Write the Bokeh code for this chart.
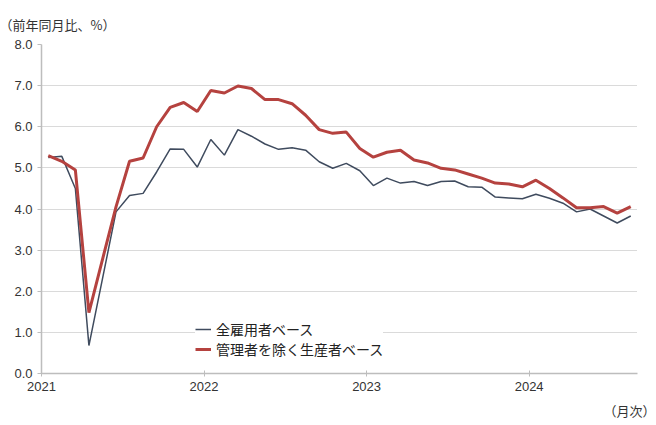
from bokeh.plotting import figure
from bokeh.models import Legend, LegendItem, Title, FixedTicker, ColumnDataSource
from bokeh.embed import file_html
from bokeh.resources import INLINE

# Monthly year-on-year growth (%), Jan 2021 - Aug 2024
years = [2021, 2022, 2023, 2024]
year_labels = ["2021", "2022", "2023", "2024"]

all_employees = [
    5.25, 5.28, 4.50, 0.68, 2.30, 3.93, 4.33, 4.38, 4.90, 5.46, 5.45, 5.02,
    5.69, 5.31, 5.93, 5.77, 5.58, 5.45, 5.49, 5.43, 5.15, 4.99, 5.11, 4.93,
    4.57, 4.75, 4.63, 4.67, 4.57, 4.67, 4.68, 4.54, 4.53, 4.29, 4.27, 4.25,
    4.36, 4.26, 4.14, 3.93, 4.00, 3.83, 3.66, 3.83,
]
production_nonsup = [
    5.30, 5.16, 4.95, 1.48, 2.77, 4.05, 5.16, 5.24, 6.00, 6.47, 6.59, 6.37,
    6.88, 6.82, 6.99, 6.93, 6.66, 6.66, 6.56, 6.28, 5.93, 5.84, 5.87, 5.47,
    5.26, 5.38, 5.43, 5.19, 5.12, 4.99, 4.95, 4.85, 4.75, 4.63, 4.61, 4.54,
    4.70, 4.50, 4.27, 4.03, 4.03, 4.06, 3.90, 4.06,
]
series_names = ["全雇用者ベース", "管理者を除く生産者ベース"]
y_label = "（前年同月比、%）"
x_label = "（月次）"

n = len(all_employees)
months = [2021 + (i + 0.5) / 12 for i in range(n)]
src = ColumnDataSource(dict(x=months, a=all_employees, b=production_nonsup))

FONT = "Noto Sans CJK JP"
p = figure(width=656, height=424, output_backend="svg", toolbar_location=None,
           x_range=(2021, 2024 + 8 / 12), y_range=(0, 8),
           min_border_left=41, min_border_right=19, min_border_top=44,
           min_border_bottom=50)
p.outline_line_color = None
p.xgrid.grid_line_color = None
p.ygrid.grid_line_color = "#b5b5b5"
p.ygrid.grid_line_dash = "1 1"
p.ygrid.grid_line_width = 1

p.yaxis.ticker = FixedTicker(ticks=[0, 1, 2, 3, 4, 5, 6, 7, 8])
p.yaxis.major_label_overrides = {i: f"{i:.1f}" for i in range(9)}
p.xaxis.ticker = FixedTicker(ticks=years)
p.xaxis.major_label_overrides = {y: l for y, l in zip(years, year_labels)}
for ax in (p.xaxis, p.yaxis):
    ax.axis_line_color = "#bdbdbd"
    ax.axis_line_width = 1.5
    ax.major_tick_line_color = "#bdbdbd"
    ax.minor_tick_line_color = None
    ax.major_label_text_font = "Liberation Sans"
    ax.major_label_text_font_size = "13px"
    ax.major_label_text_color = "#333333"
p.yaxis.major_tick_out = 4
p.yaxis.major_tick_in = 0
p.yaxis.major_label_standoff = 5
p.xaxis.major_tick_out = 3
p.xaxis.major_tick_in = 3
p.xaxis.major_label_standoff = 5

r_a = p.line("x", "a", source=src, line_color="#3f4b5e", line_width=1.5)
r_b = p.line("x", "b", source=src, line_color="#b5423f", line_width=3)

legend = Legend(items=[LegendItem(label=series_names[0], renderers=[r_a]),
                       LegendItem(label=series_names[1], renderers=[r_b])],
                location=(154, 14), orientation="vertical")
legend.label_text_font = FONT
legend.label_text_font_size = "14px"
legend.label_text_color = "#222222"
legend.glyph_width = 16
legend.label_height = 14
legend.glyph_height = 14
legend.spacing = -3
legend.padding = 3
legend.margin = 0
legend.label_standoff = 5
legend.border_line_color = None
legend.background_fill_color = "white"
legend.background_fill_alpha = 1
p.add_layout(legend)

p.add_layout(Title(text=y_label, align="left", text_font=FONT, text_font_size="13px",
                   text_color="#333333", text_font_style="normal", offset=-42,
                   standoff=22), "above")
p.add_layout(Title(text=x_label, align="right", text_font=FONT, text_font_size="13px",
                   text_color="#333333", text_font_style="normal", offset=-18,
                   standoff=10), "below")

open("out.html", "w").write(file_html(p, INLINE))
